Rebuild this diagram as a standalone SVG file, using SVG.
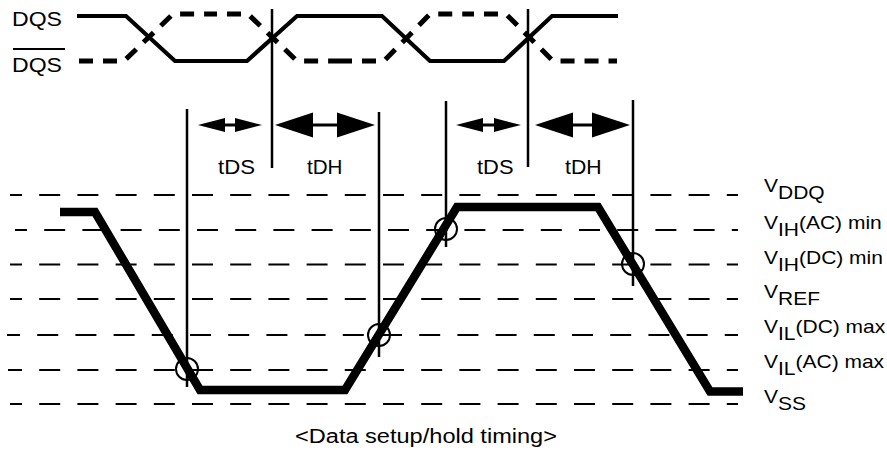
<svg xmlns="http://www.w3.org/2000/svg" width="887" height="450" viewBox="0 0 887 450">
<style>
text{font-family:"Liberation Sans",Arial,Helvetica,sans-serif;fill:#000}
.lvl{fill:none;stroke:#000;stroke-width:2;stroke-dasharray:21 17.2}
.vl{stroke:#000;stroke-width:2.5;fill:none}
.dqs{fill:none;stroke:#000;stroke-width:4.2;stroke-linejoin:miter}
.dqsn{fill:none;stroke:#000;stroke-width:5;stroke-dasharray:14 10;stroke-linejoin:miter}
.data{fill:none;stroke:#000;stroke-width:8.5;stroke-linejoin:miter;stroke-miterlimit:10}
.mk{fill:none;stroke:#000;stroke-width:2}
.sh{stroke:#000;stroke-width:3}
.t19{font-size:19.5px}
.lab{font-size:17.5px}
</style>
<defs>
<marker id="hs" markerUnits="userSpaceOnUse" markerWidth="30" markerHeight="16" viewBox="0 -8 30 16" refX="0" refY="0" orient="auto-start-reverse"><path d="M0,-7 L27,0 L0,7 Z" fill="#000"/></marker>
<marker id="hb" markerUnits="userSpaceOnUse" markerWidth="40" markerHeight="28" viewBox="0 -14 40 28" refX="0" refY="0" orient="auto-start-reverse"><path d="M0,-12.5 L38,0 L0,12.5 Z" fill="#000"/></marker>
</defs>

<g id="levels">
<line class="lvl" x1="10" y1="195" x2="738" y2="195" stroke-dashoffset="9"/>
<line class="lvl" x1="15" y1="230" x2="738" y2="230" stroke-dashoffset="9"/>
<line class="lvl" x1="10" y1="264.5" x2="738" y2="264.5" stroke-dashoffset="9"/>
<line class="lvl" x1="10" y1="299" x2="738" y2="299" stroke-dashoffset="9"/>
<line class="lvl" x1="7" y1="335" x2="738" y2="335" stroke-dashoffset="8"/>
<line class="lvl" x1="8" y1="370" x2="738" y2="370" stroke-dashoffset="7"/>
<line class="lvl" x1="10" y1="404" x2="738" y2="404" stroke-dashoffset="9"/>
</g>

<g id="dqs-signals">
<text class="t19" x="12" y="25.5" textLength="50" lengthAdjust="spacingAndGlyphs">DQS</text>
<text class="t19" x="12" y="72" textLength="50" lengthAdjust="spacingAndGlyphs">DQS</text>
<line x1="13" y1="49" x2="65" y2="49" stroke="#000" stroke-width="1.8"/>
<path class="dqs" d="M77,16 L126,16 L175,61 L247,61 L297,16 L382,16 L430,61 L504,61 L552,16 L618,16"/>
<path class="dqsn" d="M77,61 L124,61 L173,14 L210,14" stroke-dashoffset="22"/>
<path class="dqsn" d="M210,14 L248,14 L297,61 L340,61" stroke-dashoffset="7"/>
<path class="dqsn" d="M340,61 L384,61 L430,14 L468,14" stroke-dashoffset="2"/>
<path class="dqsn" d="M468,14 L506,14 L553,61 L617,61" stroke-dashoffset="8"/>
</g>

<g id="markers-lines">
<line class="vl" x1="187" y1="109" x2="187" y2="387"/>
<line class="vl" x1="272" y1="9" x2="272" y2="168"/>
<line class="vl" x1="379" y1="112" x2="379" y2="357"/>
<line class="vl" x1="446" y1="101" x2="446" y2="247"/>
<line class="vl" x1="528" y1="9" x2="528" y2="167"/>
<line class="vl" x1="633" y1="100" x2="633" y2="286"/>
</g>

<g id="connectors">
<line class="sh" x1="225" y1="125" x2="235" y2="125" marker-start="url(#hs)" marker-end="url(#hs)"/>
<line class="sh" x1="313" y1="125" x2="337" y2="125" marker-start="url(#hb)" marker-end="url(#hb)"/>
<line class="sh" x1="483" y1="125" x2="494" y2="125" marker-start="url(#hs)" marker-end="url(#hs)"/>
<line class="sh" x1="573" y1="125" x2="592" y2="125" marker-start="url(#hb)" marker-end="url(#hb)"/>
</g>

<g id="timing-labels">
<text class="t19" x="218" y="174" textLength="37" lengthAdjust="spacingAndGlyphs">tDS</text>
<text class="t19" x="307" y="174" textLength="35.5" lengthAdjust="spacingAndGlyphs">tDH</text>
<text class="t19" x="477" y="174" textLength="36.5" lengthAdjust="spacingAndGlyphs">tDS</text>
<text class="t19" x="565" y="174" textLength="36.5" lengthAdjust="spacingAndGlyphs">tDH</text>
</g>

<g id="data-signal">
<path class="data" d="M60,212 L95,212 L200,390 L345,390 L457,207 L598,207 L710,391.5 L743,391.5"/>
<circle class="mk" cx="187" cy="369" r="11"/>
<circle class="mk" cx="379" cy="335" r="11"/>
<circle class="mk" cx="446" cy="229" r="11"/>
<circle class="mk" cx="633" cy="264" r="11"/>
</g>

<g id="level-labels">
<g transform="translate(764,191.5) scale(1.2,1)"><text class="lab">V<tspan dy="7">DDQ</tspan></text></g>
<g transform="translate(764,229) scale(1.2,1)"><text class="lab">V<tspan dy="7">IH</tspan><tspan dy="-7">(AC) min</tspan></text></g>
<g transform="translate(764,264) scale(1.2,1)"><text class="lab">V<tspan dy="7">IH</tspan><tspan dy="-7">(DC) min</tspan></text></g>
<g transform="translate(764,298) scale(1.2,1)"><text class="lab">V<tspan dy="7">REF</tspan></text></g>
<g transform="translate(764,333) scale(1.2,1)"><text class="lab">V<tspan dy="7">IL</tspan><tspan dy="-7">(DC) max</tspan></text></g>
<g transform="translate(764,368) scale(1.2,1)"><text class="lab">V<tspan dy="7">IL</tspan><tspan dy="-7">(AC) max</tspan></text></g>
<g transform="translate(764,402.5) scale(1.2,1)"><text class="lab">V<tspan dy="7">SS</tspan></text></g>
</g>

<text id="caption" class="t19" x="295" y="443" textLength="262" lengthAdjust="spacingAndGlyphs">&lt;Data setup/hold timing&gt;</text>
</svg>
